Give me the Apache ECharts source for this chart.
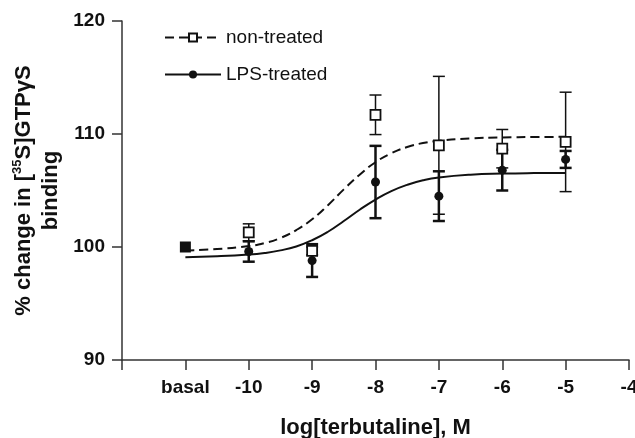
<!DOCTYPE html>
<html>
<head>
<meta charset="utf-8">
<script src="https://cdn.jsdelivr.net/npm/echarts@6/dist/echarts.min.js"></script>
<style>
  html, body { margin: 0; padding: 0; background: #fff; }
  #chart { width: 635px; height: 438px; }
</style>
</head>
<body>
<div id="chart"></div>
<script>
  // measured points (mean and error) per log concentration
  var doses = [-10, -9, -8, -7, -6, -5];
  var ntMean = [101.3, 99.65, 111.7, 109.0, 108.7, 109.3];
  var ntErr = [0.75, 0.35, 1.75, 6.1, 1.7, 4.4];
  var lpsMean = [99.6, 98.8, 105.75, 104.5, 106.8, 107.75];
  var lpsErr = [0.9, 1.45, 3.2, 2.2, 1.8, 0.75];
  var basal = [[-11, 100]];

  // fitted curves
  var fitX = [-11, -10.5, -10, -9.75, -9.5, -9.25, -9, -8.75, -8.5, -8.25, -8,
              -7.75, -7.5, -7.25, -7, -6.5, -6, -5.5, -5];
  var ntFit = [99.7, 99.82, 100.08, 100.35, 100.8, 101.5, 102.45, 103.7, 105.1, 106.4, 107.5,
               108.3, 108.85, 109.2, 109.4, 109.6, 109.7, 109.73, 109.75];
  var lpsFit = [99.1, 99.18, 99.33, 99.47, 99.7, 100.05, 100.6, 101.35, 102.3, 103.3, 104.2,
                104.95, 105.5, 105.9, 106.15, 106.4, 106.5, 106.54, 106.55];

  var xTicks = { '-12': '', '-11': 'basal' };

  var ink = '#111';
  var font = '"Liberation Sans", Arial, sans-serif';

  function pairs(xs, ys) {
    return xs.map(function (x, i) { return [x, ys[i]]; });
  }
  function bars(xs, m, e) {
    return xs.map(function (x, i) { return [x, m[i] - e[i], m[i] + e[i]]; });
  }

  function errorBar(width) {
    return function (params, api) {
      var x = api.value(0);
      var lo = api.coord([x, api.value(1)]);
      var hi = api.coord([x, api.value(2)]);
      var half = 6;
      var st = { stroke: ink, lineWidth: width, fill: null };
      return {
        type: 'group',
        children: [
          { type: 'line', shape: { x1: hi[0], y1: hi[1], x2: lo[0], y2: lo[1] }, style: st },
          { type: 'line', shape: { x1: hi[0] - half, y1: hi[1], x2: hi[0] + half, y2: hi[1] }, style: st },
          { type: 'line', shape: { x1: lo[0] - half, y1: lo[1], x2: lo[0] + half, y2: lo[1] }, style: st }
        ]
      };
    };
  }

  var bold = { fontFamily: font, fontWeight: 'bold', fontSize: 22, color: ink, lineHeight: 27 };

  var myChart = echarts.init(document.getElementById('chart'));
  var option = {
    backgroundColor: '#fff',
    animation: false,
    textStyle: { fontFamily: font },
    legend: {
      orient: 'vertical',
      left: 159,
      top: 23,
      itemWidth: 56,
      itemHeight: 10,
      itemGap: 18,
      data: ['non-treated', 'LPS-treated'],
      textStyle: { fontSize: 19, color: ink, fontFamily: font }
    },
    grid: { left: 122, right: 6, top: 21, bottom: 78, outerBoundsMode: 'none' },
    xAxis: {
      type: 'value',
      min: -12,
      max: -4,
      interval: 1,
      name: 'log[terbutaline], M',
      nameLocation: 'middle',
      nameGap: 57,
      nameTextStyle: { fontSize: 22, fontWeight: 'bold', color: ink, fontFamily: font },
      axisLine: { lineStyle: { color: '#333', width: 1.5 } },
      axisTick: { length: 10, lineStyle: { color: '#333', width: 1.5 } },
      axisLabel: {
        margin: 18,
        fontSize: 19,
        fontWeight: 'bold',
        color: ink,
        formatter: function (v) { return xTicks[v] !== undefined ? xTicks[v] : String(v); }
      },
      splitLine: { show: false }
    },
    yAxis: {
      type: 'value',
      min: 90,
      max: 120,
      interval: 10,
      name: '{a|% change in [}{s|35}{a|S]GTPγS}\n{a|binding}',
      nameLocation: 'middle',
      nameGap: 53,
      nameTextStyle: {
        align: 'center',
        rich: {
          a: bold,
          s: { fontFamily: font, fontWeight: 'bold', fontSize: 13, color: ink, lineHeight: 13, verticalAlign: 'top' }
        }
      },
      axisLine: { show: true, lineStyle: { color: '#333', width: 1.5 } },
      axisTick: { show: true, length: 10, lineStyle: { color: '#333', width: 1.5 } },
      axisLabel: { margin: 17, fontSize: 19, fontWeight: 'bold', color: ink },
      splitLine: { show: false }
    },
    series: [
      {
        name: 'non-treated',
        type: 'line',
        data: pairs(fitX, ntFit),
        smooth: 0.5,
        symbol: 'rect',
        symbolSize: 9,
        showSymbol: false,
        lineStyle: { color: ink, width: 2, type: [9, 5] },
        itemStyle: { color: '#fff', borderColor: ink, borderWidth: 1.5 },
        z: 2
      },
      {
        name: 'LPS-treated',
        type: 'line',
        data: pairs(fitX, lpsFit),
        smooth: 0.5,
        symbol: 'circle',
        symbolSize: 9,
        showSymbol: false,
        lineStyle: { color: ink, width: 2 },
        itemStyle: { color: ink },
        z: 2
      },
      {
        name: 'nt-err',
        type: 'custom',
        renderItem: errorBar(1.5),
        encode: { x: 0, y: [1, 2] },
        data: bars(doses, ntMean, ntErr),
        z: 3
      },
      {
        name: 'lps-err',
        type: 'custom',
        renderItem: errorBar(2.5),
        encode: { x: 0, y: [1, 2] },
        data: bars(doses, lpsMean, lpsErr),
        z: 3
      },
      {
        name: 'LPS-treated',
        type: 'scatter',
        data: pairs(doses, lpsMean),
        symbol: 'circle',
        symbolSize: 9,
        itemStyle: { color: ink, opacity: 1 },
        z: 4
      },
      {
        name: 'non-treated',
        type: 'scatter',
        data: pairs(doses, ntMean),
        symbol: 'rect',
        symbolSize: 10,
        itemStyle: { color: '#fff', borderColor: ink, borderWidth: 1.8, opacity: 1 },
        z: 5
      },
      {
        name: 'basal',
        type: 'scatter',
        data: basal,
        symbol: 'rect',
        symbolSize: 11,
        itemStyle: { color: ink, opacity: 1 },
        z: 5
      }
    ]
  };
  myChart.setOption(option);
</script>
</body>
</html>
